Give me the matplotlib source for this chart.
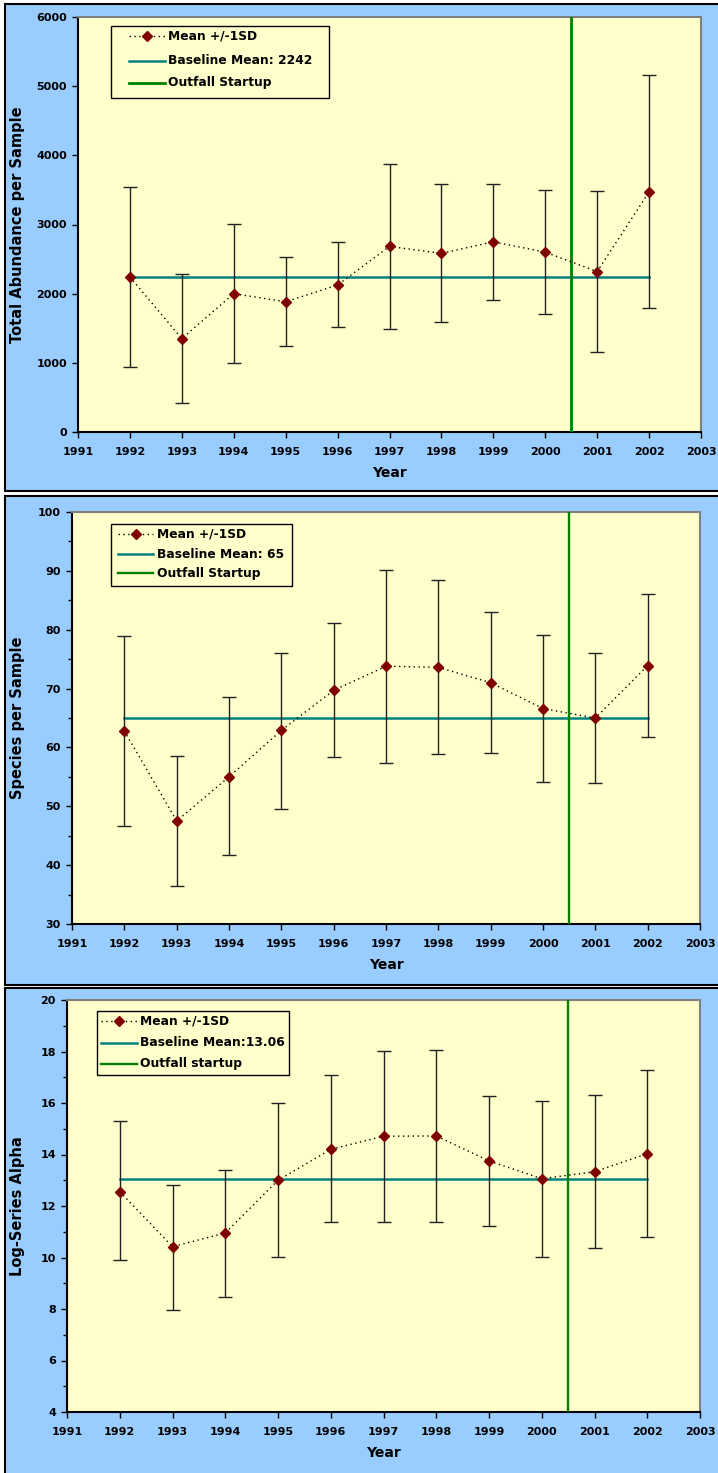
import matplotlib
matplotlib.use("Agg")
import matplotlib.pyplot as plt
from matplotlib.patches import Rectangle
from matplotlib.lines import Line2D
from matplotlib.ticker import MultipleLocator

plt.rcParams['font.family'] = ['DejaVu Sans']
plt.rcParams['font.weight'] = 'bold'

years = [1992, 1993, 1994, 1995, 1996, 1997, 1998, 1999, 2000, 2001, 2002]

abund_mean = [2242, 1350, 2000, 1883, 2125, 2683, 2582, 2750, 2600, 2320, 3473]
abund_upper = [3540, 2290, 3006, 2533, 2745, 3877, 3579, 3588, 3497, 3487, 5165]
abund_lower = [939, 415, 997, 1238, 1513, 1488, 1594, 1912, 1710, 1156, 1796]
abund_baseline = 2242

species_mean = [62.8, 47.5, 55.0, 62.9, 69.7, 73.8, 73.6, 71.0, 66.6, 65.0, 73.9]
species_upper = [78.9, 58.6, 68.5, 76.1, 81.1, 90.1, 88.4, 83.0, 79.1, 76.1, 86.0]
species_lower = [46.7, 36.4, 41.7, 49.5, 58.3, 57.4, 58.9, 59.1, 54.1, 53.9, 61.8]
species_baseline = 65

alpha_mean = [12.56, 10.42, 10.95, 13.0, 14.2, 14.71, 14.72, 13.75, 13.06, 13.33, 14.03]
alpha_upper = [15.3, 12.82, 13.41, 16.0, 17.07, 18.03, 18.07, 16.26, 16.09, 16.30, 17.27]
alpha_lower = [9.9, 7.95, 8.47, 10.03, 11.38, 11.38, 11.38, 11.22, 10.03, 10.37, 10.81]
alpha_baseline = 13.06

outfall_year = 2000.5
xticks = list(range(1991, 2004))

W, H = 718, 1473
BLUE = '#99CCFF'
YELLOW = '#FFFFCC'
MARKER = '#800000'
TEAL = '#008080'
GREEN = '#008000'
DOTS = (0, (1, 2.5))
fig = plt.figure(figsize=(W / 100, H / 100), dpi=100)


def fx(px):
    return px / W


def fy(py):
    return 1 - py / H


# panel backgrounds (pixel coords: left, top, right, bottom)
for (l, t, r, b) in [(5, 4, 722, 491), (5, 496, 722, 985), (5, 988, 722, 1478)]:
    fig.add_artist(Rectangle((fx(l), fy(b)), (r - l) / W, (b - t) / H,
                             transform=fig.transFigure, facecolor=BLUE,
                             edgecolor='black', linewidth=1.5, zorder=-10))


def make_axes(l, t, r, b):
    ax = fig.add_axes([fx(l), fy(b), (r - l) / W, (b - t) / H])
    ax.set_zorder(5)
    return ax


def legend_box(box, hx0, hx1, tx, rows, labels, green_lw):
    l, t, r, b = box
    fig.add_artist(Rectangle((fx(l), fy(b)), (r - l) / W, (b - t) / H,
                             transform=fig.transFigure, facecolor=YELLOW,
                             edgecolor='black', linewidth=1.0, zorder=20))
    fig.add_artist(Line2D([fx(hx0), fx(hx1)], [fy(rows[0])] * 2, transform=fig.transFigure,
                          color='black', lw=1.0, linestyle=DOTS, zorder=21))
    fig.add_artist(Line2D([fx((hx0 + hx1) / 2)], [fy(rows[0])], transform=fig.transFigure,
                          marker='D', markersize=5, markerfacecolor=MARKER,
                          markeredgecolor=MARKER, linestyle='none', zorder=22))
    fig.add_artist(Line2D([fx(hx0), fx(hx1)], [fy(rows[1])] * 2, transform=fig.transFigure,
                          color=TEAL, lw=1.8, zorder=21))
    fig.add_artist(Line2D([fx(hx0), fx(hx1)], [fy(rows[2])] * 2, transform=fig.transFigure,
                          color=GREEN, lw=green_lw, zorder=21))
    for ry, lab in zip(rows, labels):
        fig.text(fx(tx), fy(ry), lab, ha='left', va='center', fontsize=8.8,
                 fontweight='bold', zorder=22)


def draw_panel(ax, mean, upper, lower, baseline, ylim, ymajor, yminor, ylabel, ylabel_x,
               green_lw):
    ax.set_facecolor(YELLOW)
    ax.set_xlim(1991, 2003)
    ax.set_ylim(*ylim)
    yerr = [[m - lo for m, lo in zip(mean, lower)], [u - m for m, u in zip(mean, upper)]]
    ax.errorbar(years, mean, yerr=yerr, fmt='none', ecolor='#222222', elinewidth=1.0,
                capsize=5, capthick=1.0, zorder=3)
    ax.plot(years, [baseline] * len(years), color=TEAL, lw=1.8, zorder=2)
    ax.axvline(outfall_year, color=GREEN, lw=green_lw, zorder=4)
    ax.plot(years, mean, linestyle=DOTS, color='black', lw=1.0, marker='D',
            markersize=5.2, markerfacecolor=MARKER, markeredgecolor=MARKER, zorder=5)
    ax.set_xticks(xticks)
    ax.set_xticklabels([str(y) for y in xticks])
    ax.yaxis.set_major_locator(MultipleLocator(ymajor))
    if yminor:
        ax.yaxis.set_minor_locator(MultipleLocator(yminor))
    ax.tick_params(axis='both', which='major', direction='out', length=4, width=1,
                   labelsize=8, colors='black')
    ax.tick_params(axis='y', which='minor', direction='out', length=3, width=1)
    ax.tick_params(axis='x', pad=7)
    ax.tick_params(axis='y', pad=4)
    for lab in ax.get_xticklabels() + ax.get_yticklabels():
        lab.set_fontweight('bold')
    for s in ['left', 'bottom']:
        ax.spines[s].set_color('black')
        ax.spines[s].set_linewidth(1.5)
    for s in ['top', 'right']:
        ax.spines[s].set_color('#808080')
        ax.spines[s].set_linewidth(1.5)
    ax.set_xlabel('Year', fontsize=10, fontweight='bold', labelpad=6)
    ax.set_ylabel(ylabel, fontsize=10.5, fontweight='bold')
    ax.yaxis.set_label_coords(ylabel_x, 0.5)


ax1 = make_axes(78, 17, 701, 432)
draw_panel(ax1, abund_mean, abund_upper, abund_lower, abund_baseline, (0, 6000), 1000, None,
           'Total Abundance per Sample', -0.085, 2.0)
legend_box((111, 26, 329, 98), 129, 165, 168, (36, 60.5, 82.5),
           ['Mean +/-1SD', 'Baseline Mean: 2242', 'Outfall Startup'], 2.0)

ax2 = make_axes(72, 512, 700, 924)
draw_panel(ax2, species_mean, species_upper, species_lower, species_baseline, (30, 100), 10, 5,
           'Species per Sample', -0.075, 1.7)
legend_box((111, 524, 292, 586), 118, 153, 157, (534, 554, 573),
           ['Mean +/-1SD', 'Baseline Mean: 65', 'Outfall Startup'], 1.7)

ax3 = make_axes(67, 1000, 700, 1412)
draw_panel(ax3, alpha_mean, alpha_upper, alpha_lower, alpha_baseline, (4, 20), 2, 1,
           'Log-Series Alpha', -0.066, 1.7)
legend_box((97, 1011, 289, 1075), 101, 137, 140, (1021, 1042.5, 1063.5),
           ['Mean +/-1SD', 'Baseline Mean:13.06', 'Outfall startup'], 1.7)

fig.savefig('out.png', dpi=100)
